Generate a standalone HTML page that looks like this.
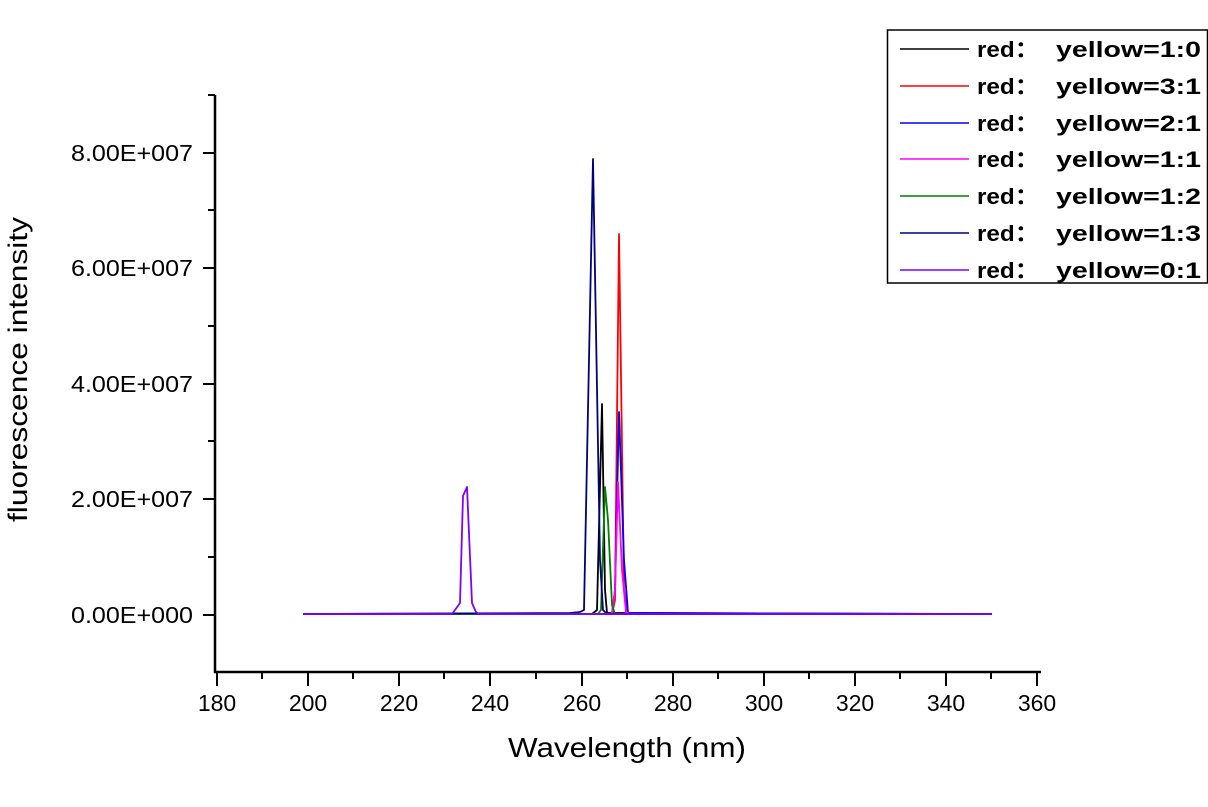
<!DOCTYPE html>
<html><head><meta charset="utf-8"><style>
html,body{margin:0;padding:0;background:#fff;}
svg{display:block;font-family:"Liberation Sans",Arial,sans-serif;}
</style></head><body>
<svg width="1208" height="807" viewBox="0 0 1208 807" xmlns="http://www.w3.org/2000/svg">
<rect width="1208" height="807" fill="#fff"/>
<g stroke="#000" stroke-width="2.5" fill="none">
<line x1="215" y1="95" x2="215" y2="673"/>
<line x1="214" y1="672" x2="1041" y2="672"/>
</g>
<g stroke="#000" stroke-width="2">
<line x1="203" y1="153" x2="215" y2="153"/>
<line x1="203" y1="268" x2="215" y2="268"/>
<line x1="203" y1="384" x2="215" y2="384"/>
<line x1="203" y1="499" x2="215" y2="499"/>
<line x1="203" y1="615" x2="215" y2="615"/>
<line x1="208" y1="95" x2="215" y2="95"/>
<line x1="208" y1="210" x2="215" y2="210"/>
<line x1="208" y1="326" x2="215" y2="326"/>
<line x1="208" y1="441" x2="215" y2="441"/>
<line x1="208" y1="557" x2="215" y2="557"/>
<line x1="217" y1="672" x2="217" y2="686"/>
<line x1="308" y1="672" x2="308" y2="686"/>
<line x1="399" y1="672" x2="399" y2="686"/>
<line x1="490" y1="672" x2="490" y2="686"/>
<line x1="582" y1="672" x2="582" y2="686"/>
<line x1="673" y1="672" x2="673" y2="686"/>
<line x1="764" y1="672" x2="764" y2="686"/>
<line x1="855" y1="672" x2="855" y2="686"/>
<line x1="946" y1="672" x2="946" y2="686"/>
<line x1="1037" y1="672" x2="1037" y2="686"/>
<line x1="262" y1="672" x2="262" y2="679"/>
<line x1="353" y1="672" x2="353" y2="679"/>
<line x1="444" y1="672" x2="444" y2="679"/>
<line x1="536" y1="672" x2="536" y2="679"/>
<line x1="627" y1="672" x2="627" y2="679"/>
<line x1="718" y1="672" x2="718" y2="679"/>
<line x1="809" y1="672" x2="809" y2="679"/>
<line x1="900" y1="672" x2="900" y2="679"/>
<line x1="991" y1="672" x2="991" y2="679"/>
</g>
<g font-size="23" fill="#000">
<text x="71" y="161" textLength="122" lengthAdjust="spacingAndGlyphs">8.00E+007</text>
<text x="71" y="276" textLength="122" lengthAdjust="spacingAndGlyphs">6.00E+007</text>
<text x="71" y="392" textLength="122" lengthAdjust="spacingAndGlyphs">4.00E+007</text>
<text x="71" y="507" textLength="122" lengthAdjust="spacingAndGlyphs">2.00E+007</text>
<text x="71" y="623" textLength="122" lengthAdjust="spacingAndGlyphs">0.00E+000</text>
</g>
<g font-size="23" fill="#000" text-anchor="middle">
<text x="217" y="711">180</text>
<text x="308" y="711">200</text>
<text x="399" y="711">220</text>
<text x="490" y="711">240</text>
<text x="582" y="711">260</text>
<text x="673" y="711">280</text>
<text x="764" y="711">300</text>
<text x="855" y="711">320</text>
<text x="946" y="711">340</text>
<text x="1037" y="711">360</text>
</g>
<text x="508" y="757" font-size="28" textLength="238" lengthAdjust="spacingAndGlyphs">Wavelength (nm)</text>
<text transform="translate(27,522) rotate(-90)" font-size="27" textLength="305" lengthAdjust="spacingAndGlyphs">fluorescence intensity</text>
<g fill="none" stroke-width="1.8" stroke-linejoin="round">
<polyline stroke="#000000" points="303,614 592,614 597,610 602,404 605,590 607,613 992,614"/>
<polyline stroke="#ff0000" points="303,614 612,614 615,600 619,234 624,590 628,614 992,614"/>
<polyline stroke="#0000ff" points="303,614 612,614 615,590 619,412 624,560 628,613 992,614"/>
<polyline stroke="#ff00ff" points="303,614 612,614 615,590 618,482 622,570 626,612 630,614 992,614"/>
<polyline stroke="#008000" points="303,614 598,614 601,610 605,487 608,520 612,605 615,614 992,614"/>
<polyline stroke="#000080" points="303,614 570,613 580,612 584,610 593,159 600,560 603,610 607,614 992,614"/>
<polyline stroke="#8000ff" points="303,614 452,614 455,610 460,603 463,496 467,487 472,603 476,612 479,614 600,614 610,614 992,614"/>
</g>
<rect x="887.5" y="30" width="320" height="253" fill="#fff" stroke="#000" stroke-width="1.5"/>
<g stroke-width="1.5">
<line x1="900" y1="49" x2="969" y2="49" stroke="#000000"/>
<line x1="900" y1="86" x2="969" y2="86" stroke="#ff0000"/>
<line x1="900" y1="123" x2="969" y2="123" stroke="#0000ff"/>
<line x1="900" y1="159" x2="969" y2="159" stroke="#ff00ff"/>
<line x1="900" y1="196" x2="969" y2="196" stroke="#008000"/>
<line x1="900" y1="233" x2="969" y2="233" stroke="#000080"/>
<line x1="900" y1="270" x2="969" y2="270" stroke="#8000ff"/>
</g>
<g font-size="22" font-weight="bold" fill="#000">
<text x="977" y="57" textLength="62" lengthAdjust="spacingAndGlyphs">red：</text><text x="1056" y="57" textLength="145" lengthAdjust="spacingAndGlyphs">yellow=1:0</text>
<text x="977" y="94" textLength="62" lengthAdjust="spacingAndGlyphs">red：</text><text x="1056" y="94" textLength="145" lengthAdjust="spacingAndGlyphs">yellow=3:1</text>
<text x="977" y="131" textLength="62" lengthAdjust="spacingAndGlyphs">red：</text><text x="1056" y="131" textLength="145" lengthAdjust="spacingAndGlyphs">yellow=2:1</text>
<text x="977" y="167" textLength="62" lengthAdjust="spacingAndGlyphs">red：</text><text x="1056" y="167" textLength="145" lengthAdjust="spacingAndGlyphs">yellow=1:1</text>
<text x="977" y="204" textLength="62" lengthAdjust="spacingAndGlyphs">red：</text><text x="1056" y="204" textLength="145" lengthAdjust="spacingAndGlyphs">yellow=1:2</text>
<text x="977" y="241" textLength="62" lengthAdjust="spacingAndGlyphs">red：</text><text x="1056" y="241" textLength="145" lengthAdjust="spacingAndGlyphs">yellow=1:3</text>
<text x="977" y="278" textLength="62" lengthAdjust="spacingAndGlyphs">red：</text><text x="1056" y="278" textLength="145" lengthAdjust="spacingAndGlyphs">yellow=0:1</text>
</g>
</svg>
</body></html>
